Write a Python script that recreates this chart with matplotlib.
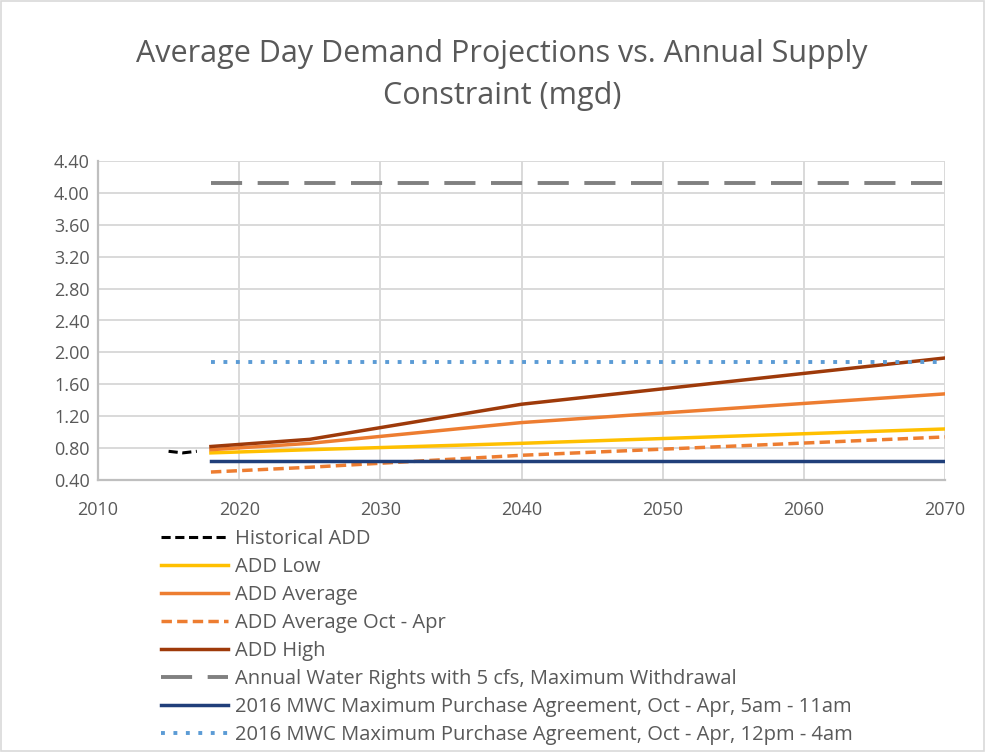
import matplotlib

matplotlib.use("Agg")
import matplotlib.pyplot as plt
from matplotlib.patches import Rectangle
from matplotlib.ticker import FormatStrFormatter, MultipleLocator

plt.rcParams["font.family"] = ["Open Sans", "DejaVu Sans"]

# data (mgd)
hist_years = [2015, 2016, 2017]
hist_add = [0.76, 0.74, 0.76]

proj_years = [2018, 2025, 2040, 2070]
add_low = [0.74, 0.78, 0.86, 1.04]
add_avg = [0.78, 0.86, 1.12, 1.48]
add_avg_oct_apr = [0.50, 0.56, 0.71, 0.94]
add_high = [0.82, 0.91, 1.35, 1.93]

const_years = [2018, 2070]
water_rights = [4.13, 4.13]
mwc_5_11 = [0.64, 0.64]
mwc_12_4 = [1.88, 1.88]

W, H = 985, 752
fig = plt.figure(figsize=(W / 100, H / 100), dpi=100)
fig.patches.append(Rectangle((0.001, 0.001), 0.998, 0.998, transform=fig.transFigure,
                             fill=False, edgecolor="#D9D9D9", linewidth=1.2))

ax = fig.add_axes([98 / W, (H - 480) / H, (945 - 98) / W, (480 - 161) / H])

ax.plot(hist_years, hist_add, color="black", ls=(0, (3, 1.5)), lw=2.2,
        label="Historical ADD")
ax.plot(proj_years, add_low, color="#FFC000", lw=2.5, label="ADD Low")
ax.plot(proj_years, add_avg, color="#ED7D31", lw=2.5, label="ADD Average")
ax.plot(proj_years, add_avg_oct_apr, color="#ED7D31", ls=(0, (3, 1.5)), lw=2.5,
        label="ADD Average Oct - Apr")
ax.plot(proj_years, add_high, color="#9E3A0A", lw=2.5, label="ADD High")
ax.plot(const_years, water_rights, color="#808080", ls=(0, (8, 4)), lw=2.8,
        label="Annual Water Rights with 5 cfs, Maximum Withdrawal")
ax.plot(const_years, mwc_5_11, color="#203F7A", lw=2.5,
        label="2016 MWC Maximum Purchase Agreement, Oct - Apr, 5am - 11am")
ax.plot(const_years, mwc_12_4, color="#5B9BD5", ls=(0, (1, 2.2)), lw=2.8,
        label="2016 MWC Maximum Purchase Agreement, Oct - Apr, 12pm - 4am")

ax.set_xlim(2010, 2070)
ax.set_ylim(0.4, 4.4)
ax.xaxis.set_major_locator(MultipleLocator(10))
ax.yaxis.set_major_locator(MultipleLocator(0.4))
ax.yaxis.set_major_formatter(FormatStrFormatter("%.2f"))
ax.grid(True, color="#D9D9D9", lw=1.4)
ax.set_axisbelow(True)
for side in ("top", "right"):
    ax.spines[side].set_visible(False)
for side in ("left", "bottom"):
    ax.spines[side].set_color("#BFBFBF")
    ax.spines[side].set_linewidth(1.6)
ax.tick_params(length=0, colors="#595959", labelsize=13)
ax.tick_params(axis="x", pad=15)
ax.tick_params(axis="y", pad=6)

fig.text(502 / W, 1 - 75 / H,
         "Average Day Demand Projections vs. Annual Supply\nConstraint (mgd)",
         ha="center", va="center", fontsize=22, color="#595959", linespacing=1.52)

leg = fig.legend(loc="upper left", bbox_to_anchor=(161 / W, 1 - 529 / H),
                 frameon=False, fontsize=14.5, handlelength=3.35, handletextpad=0.3,
                 labelspacing=0.40, borderpad=0, borderaxespad=0)
for t in leg.get_texts():
    t.set_color("#595959")

fig.savefig("out.png", dpi=100)
